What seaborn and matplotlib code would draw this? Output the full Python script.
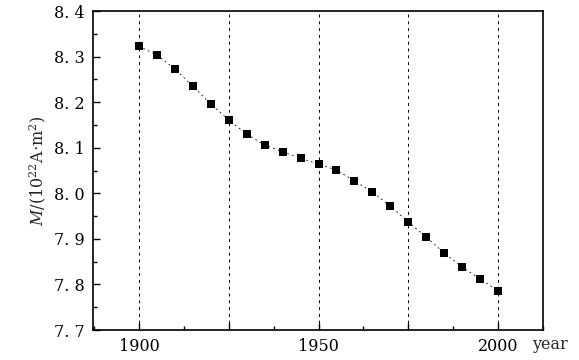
import numpy as np
import pandas as pd
import matplotlib
matplotlib.use("Agg")
import matplotlib.pyplot as plt
import matplotlib.ticker as mticker
import seaborn as sns

years = [1900, 1905, 1910, 1915, 1920, 1925, 1930, 1935, 1940, 1945, 1950,
         1955, 1960, 1965, 1970, 1975, 1980, 1985, 1990, 1995, 2000]
moment = [8.323, 8.303, 8.273, 8.235, 8.196, 8.161, 8.130, 8.106, 8.091, 8.077, 8.064,
          8.051, 8.027, 8.003, 7.972, 7.937, 7.904, 7.869, 7.838, 7.812, 7.786]
x_labels = {1900: "1900", 1950: "1950", 2000: "2000"}

df = pd.DataFrame({"year": years, "M": moment})

sns.set_style("ticks")
plt.rcParams["font.family"] = ["DejaVu Serif"]
plt.rcParams["mathtext.fontset"] = "dejavuserif"

fig = plt.figure(figsize=(5.79, 3.6), dpi=100)
ax = fig.add_axes([0.1606, 0.0833, 0.7772, 0.8861])

sns.lineplot(data=df, x="year", y="M", ax=ax, color="black", linewidth=0.6,
             linestyle=(0, (2, 4)), zorder=2)
sns.scatterplot(data=df, x="year", y="M", ax=ax, marker="s", s=30, color="black",
                edgecolor="black", linewidth=0, zorder=3)

ax.set_xlim(1887.2, 2012.5)
ax.set_ylim(7.7, 8.4)

ax.xaxis.set_major_locator(mticker.MultipleLocator(25))
ax.xaxis.set_minor_locator(mticker.MultipleLocator(12.5))
ax.xaxis.set_major_formatter(mticker.FuncFormatter(lambda v, p: x_labels.get(int(round(v)), "")))
ax.yaxis.set_major_locator(mticker.MultipleLocator(0.1))
ax.yaxis.set_minor_locator(mticker.MultipleLocator(0.05))
ax.yaxis.set_major_formatter(mticker.FuncFormatter(lambda v, p: f"{v:.1f}".replace(".", ". ")))

ax.tick_params(which="both", direction="in", top=False, right=False, width=1, colors="black")
ax.tick_params(which="major", length=5, labelsize=11.5, pad=6)
ax.tick_params(which="minor", length=3)

ax.grid(axis="x", which="major", color="black", linestyle=(0, (3, 4)), linewidth=0.7)
for s in ax.spines.values():
    s.set_linewidth(1.2)
    s.set_color("black")

ax.set_xlabel("")
ax.set_ylabel(r"$M$/(10$^{22}$A$\cdot$m$^2$)", fontsize=11.5, labelpad=4)
fig.text(532 / 579, 1 - 349 / 360, "year", fontsize=11.5, va="baseline", ha="left")

fig.savefig("out.png", dpi=100)
